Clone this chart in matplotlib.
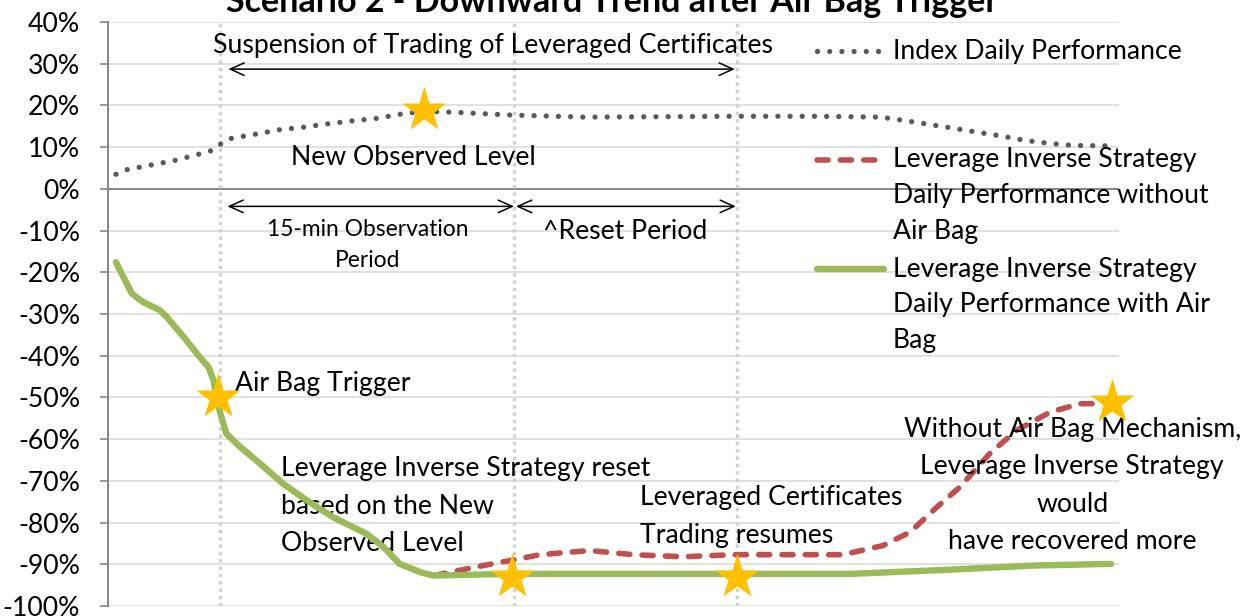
import matplotlib
matplotlib.use('Agg')
import matplotlib.pyplot as plt
from matplotlib.lines import Line2D
from matplotlib.ticker import FuncFormatter

plt.rcParams['font.family'] = ['Lato', 'DejaVu Sans']

# ---- data (x: time step 0..100, y: percent) ----
index_x = [0, 1.1, 3.5, 5.9, 8.3, 9.5, 10.5, 11.6, 14.0, 16.5, 18.9, 21.3, 23.8, 26.2, 28.6,
           31.0, 33.6, 39.6, 47.1, 54.7, 62.0, 70.5, 76.8, 79.2, 81.6, 84.0, 86.5, 88.9,
           91.4, 93.8, 96.2, 100]
index_y = [3.5, 4.6, 5.7, 6.8, 8.3, 9.1, 10.7, 12.1, 13.1, 14.2, 14.8, 15.6, 16.3, 16.9, 17.9,
           18.6, 18.4, 17.7, 17.2, 17.3, 17.4, 17.4, 17.2, 16.4, 15.5, 14.6, 13.6, 12.7,
           11.6, 10.9, 10.4, 10.3]

with_x = [0, 0.4, 1.6, 2.7, 4.4, 5.1, 6.8, 8.4, 9.3, 9.8, 10.1, 10.5, 11.1, 12.5, 14.5, 16.8,
          19.2, 21.8, 25.2, 26.9, 28.5, 30.6, 31.9, 39.6, 62.4, 73.8, 83.8, 92.2, 100]
with_y = [-17.6, -19.5, -25.1, -27.1, -29.1, -30.7, -35.5, -40.3, -42.7, -45.9, -49.9, -53.9,
          -58.7, -61.9, -65.9, -70.7, -74.7, -78.7, -82.7, -85.9, -89.9, -91.9, -92.7, -92.3,
          -92.3, -92.3, -91.3, -90.3, -89.9]

without_x = with_x[:23] + [33.6, 36.9, 39.6, 42.6, 47.6, 52.0, 57.0, 62.0, 73.1, 73.8, 77.1,
                           79.8, 82.5, 84.8, 87.8, 90.5, 93.9, 96.9, 98.9]
without_y = with_y[:23] + [-91.9, -90.3, -89.1, -87.7, -86.7, -87.7, -88.2, -87.7, -87.7, -87.3,
                           -85.5, -82.3, -76.3, -71.5, -63.5, -57.9, -53.5, -51.5, -51.5]

star_x = [10.25, 31.0, 39.8, 62.4, 100.1]
star_y = [-49.8, 18.8, -93.1, -93.1, -51.1]

event_x = [10.45, 40.0, 62.4]

title = 'Scenario 2 - Downward Trend after Air Bag Trigger'
label_index = 'Index Daily Performance'
label_without = ['Leverage Inverse Strategy', 'Daily Performance without', 'Air Bag']
label_with = ['Leverage Inverse Strategy', 'Daily Performance with Air', 'Bag']

grey = '#595959'
red = '#c0504d'
green = '#9bbb59'
gold = '#ffc000'
FS = 19.2
LS = 1.62

fig = plt.figure(figsize=(12.52, 6.16), dpi=100)
ax = fig.add_axes([108 / 1252, 1 - 606 / 616, (1119 - 108) / 1252, (606 - 22) / 616])

ax.set_xlim(-0.8, 100.8)
ax.set_ylim(-100, 40)
ax.set_yticks(range(-100, 41, 10))
ax.yaxis.set_major_formatter(FuncFormatter(lambda v, p: f'{v:.0f}%'))
ax.tick_params(axis='y', length=6, width=1.2, color='#868686', pad=14, labelsize=FS)
ax.set_xticks([])
ax.grid(axis='y', color='#d9d9d9', lw=1.1)
ax.set_axisbelow(True)
for s in ['top', 'right', 'bottom']:
    ax.spines[s].set_visible(False)
ax.spines['left'].set_color('#868686')
ax.spines['left'].set_linewidth(1.4)
ax.axhline(0, color='#868686', lw=1.4, zorder=1)

for ex in event_x:
    ax.axvline(ex, color='#d0d0d0', lw=2.4, ls=(0, (1, 1.2)), zorder=1)

# series
ax.plot(index_x, index_y, color=grey, lw=3.8, ls=(0, (0.01, 2.3)), dash_capstyle='round', zorder=3)
ax.plot(without_x, without_y, color=red, lw=4, ls=(0, (2.0, 2.2)), dash_capstyle='round',
        solid_joinstyle='round', zorder=3)
ax.plot(with_x, with_y, color=green, lw=4.6, solid_capstyle='round', solid_joinstyle='round', zorder=4)
ax.plot(star_x, star_y, ls='none', marker='*', ms=34, color=gold, mec='none', zorder=6, clip_on=False)

# arrows
arr = dict(arrowstyle='<->,head_length=1.0,head_width=0.45', color='black', lw=1.1,
           shrinkA=0, shrinkB=0)
ax.annotate('', xy=(11.3, 28.7), xytext=(62.2, 28.7), arrowprops=arr)
ax.annotate('', xy=(11.2, -4.2), xytext=(40.0, -4.2), arrowprops=arr)
ax.annotate('', xy=(40.2, -4.2), xytext=(62.3, -4.2), arrowprops=arr)

# annotation texts
ax.text(37.9, 34.4, 'Suspension of Trading of Leveraged Certificates', fontsize=FS, ha='center', va='center')
ax.text(29.9, 7.6, 'New Observed Level', fontsize=FS, ha='center', va='center')
ax.text(25.3, -13.5, '15-min Observation\nPeriod', fontsize=16.4, ha='center', va='center',
        linespacing=1.6)
ax.text(51.2, -10.2, '^Reset Period', fontsize=FS, ha='center', va='center')
ax.text(12.0, -46.6, 'Air Bag Trigger', fontsize=FS, ha='left', va='center')
ax.text(16.6, -76.1, 'Leverage Inverse Strategy reset\nbased on the New\nObserved Level', fontsize=FS,
        ha='left', va='center', linespacing=LS)
ax.text(52.7, -78.5, 'Leveraged Certificates\nTrading resumes', fontsize=FS, ha='left', va='center',
        linespacing=LS)
ax.text(96.1, -71.1, 'Without Air Bag Mechanism,\nLeverage Inverse Strategy\nwould\nhave recovered more',
        fontsize=FS, ha='center', va='center', linespacing=LS, multialignment='center')

# title (partly cut at the top, as in the original)
fig.text(612 / 1252, 1 - 12 / 616, title, fontsize=24.5, fontweight='bold', ha='center', va='baseline')

# legend drawn by hand so the handle sits on the first line of each label
def fy(py):
    return 1 - py / 616

legend_rows = [
    (dict(color=grey, lw=3.8, ls=(0, (0.01, 2.3)), dash_capstyle='round'), [label_index], 51),
    (dict(color=red, lw=4, ls=(0, (2.0, 2.2)), dash_capstyle='round'), label_without, 160),
    (dict(color=green, lw=4.6, solid_capstyle='round'), label_with, 269),
]
for style, lines, py in legend_rows:
    fig.add_artist(Line2D([817 / 1252, 884 / 1252], [fy(py), fy(py)], transform=fig.transFigure, **style))
    for i, t in enumerate(lines):
        fig.text(893 / 1252, fy(py + i * 35.8), t, fontsize=FS, ha='left', va='center')

fig.savefig('out.png', dpi=100)
